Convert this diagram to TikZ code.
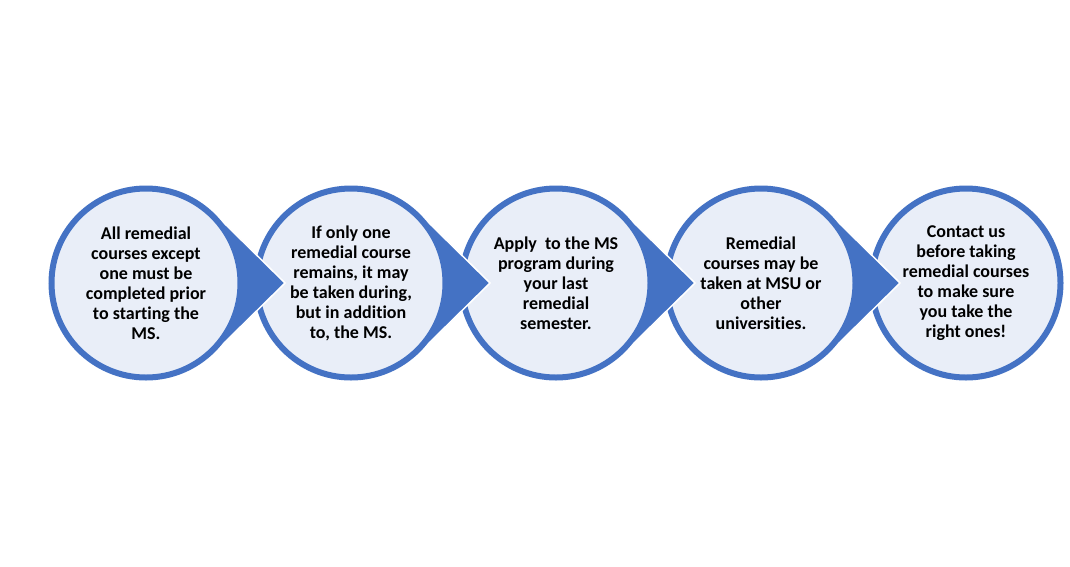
\documentclass[tikz,border=0pt]{standalone}
\usepackage{fontspec}
\setmainfont[Ligatures=NoCommon]{Carlito}
\usetikzlibrary{calc}
\definecolor{accblue}{RGB}{68,114,196}
\definecolor{lightfill}{RGB}{233,238,248}
\tikzset{
  stepcircle/.style={circle, draw=accblue, fill=lightfill, line width=6pt, minimum size=189pt, inner sep=0pt},
  steptext/.style={align=center, font=\fontsize{18}{20}\selectfont\bfseries, text=black, inner sep=0pt},
  steparrow/.style={fill=accblue, draw=white, line width=1.5pt, line join=miter}
}
\begin{document}
\begin{tikzpicture}[x=1pt,y=-1pt]
\fill[white] (0,0) rectangle (1070,566);
\useasboundingbox (0,0) rectangle (1070,566);
\foreach \i/\x/\txt in {
  5/966/{Contact us\\before taking\\remedial courses\\to make sure\\you take the\\right ones!},
  4/761/{Remedial\\courses may be\\taken at MSU or\\other\\universities.},
  3/556/{Apply\ \ to the MS\\program during\\your last\\remedial\\semester.},
  2/351/{If only one\\remedial course\\remains, it may\\be taken during,\\but in addition\\to, the MS.},
  1/146/{All remedial\\courses except\\one must be\\completed prior\\to starting the\\MS.}}{
  \coordinate (ctr\i) at (\x,283);
  \ifnum\i<5
    \coordinate (tip\i) at (\x+139,283);
    \coordinate (up\i) at ($(ctr\i)+(45.5:97.5)$);
    \coordinate (dn\i) at ($(ctr\i)+(-45.5:97.5)$);
    \path[steparrow] (up\i) -- (tip\i) -- (dn\i) -- (ctr\i) -- cycle;
  \fi
  \node[stepcircle] (c\i) at (ctr\i) {};
  \node[steptext] (t\i) at (ctr\i) {\txt};
}
\end{tikzpicture}
\end{document}
